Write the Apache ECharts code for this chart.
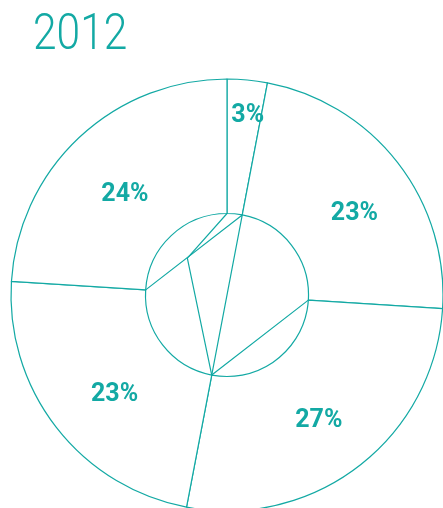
<!DOCTYPE html>
<html>
<head>
<meta charset="utf-8">
<script src="https://cdn.jsdelivr.net/npm/echarts@6/dist/echarts.min.js"></script>
<style>html,body{margin:0;padding:0;background:#fff;}#c{width:443px;height:508px;}</style>
</head>
<body>
<div id="c"></div>
<script>
// ---- data ----
var title = '2012';
var categories = ['A', 'B', 'C', 'D', 'E'];
var shares = [3, 23, 27, 23, 24];           // percent
// inner sketch: chord paths as [radius, cumulativePercent]
var innerPathA = [[81.5, 0], [54.1, 86.9], [81.5, 53], [81.5, 26]];
var innerPathB = [[81.5, 76], [81.5, 3], [81.5, 53]];

// ---- style ----
var TEAL = '#13a9a4';
var CX = 227, CY = 295, R_OUT = 216, R_IN = 81.5;
var labelOffsets = [[6.5, -28.4], [7.5, 12.2], [-1.2, 5.5], [7.5, 6.3], [1.8, 10.4]];

var chart = echarts.init(document.getElementById('c'), null, {renderer: 'canvas'});
var pieData = categories.map(function (c, i) {
  return {
    name: c,
    value: shares[i],
    label: {offset: labelOffsets[i]}
  };
});
function pathSeries(d) {
  return {
    type: 'line', coordinateSystem: 'polar', data: d, symbol: 'none',
    lineStyle: {color: TEAL, width: 1.2}, z: 5, silent: true, animation: false
  };
}
chart.setOption({
  animation: false,
  graphic: [{
    type: 'text', x: 33, y: 11, scaleX: 0.85,
    style: {text: title, font: '300 50px Roboto', fill: TEAL, verticalAlign: 'top'}
  }],
  polar: {center: [CX, CY], radius: R_OUT},
  angleAxis: {type: 'value', min: 0, max: 100, startAngle: 90, clockwise: true, show: false},
  radiusAxis: {type: 'value', min: 0, max: R_OUT, show: false},
  series: [{
    type: 'pie',
    center: [CX, CY],
    radius: [R_IN, R_OUT],
    startAngle: 90,
    clockwise: true,
    avoidLabelOverlap: false,
    silent: true,
    itemStyle: {color: '#fff', borderColor: TEAL, borderWidth: 1.2},
    label: {
      show: true, position: 'inside',
      formatter: '{c}%',
      color: TEAL, fontFamily: 'Roboto', fontWeight: 'bold', fontSize: 25
    },
    labelLine: {show: false},
    emphasis: {disabled: true},
    data: pieData,
    z: 2
  }, pathSeries(innerPathA), pathSeries(innerPathB)]
});
</script>
</body>
</html>
